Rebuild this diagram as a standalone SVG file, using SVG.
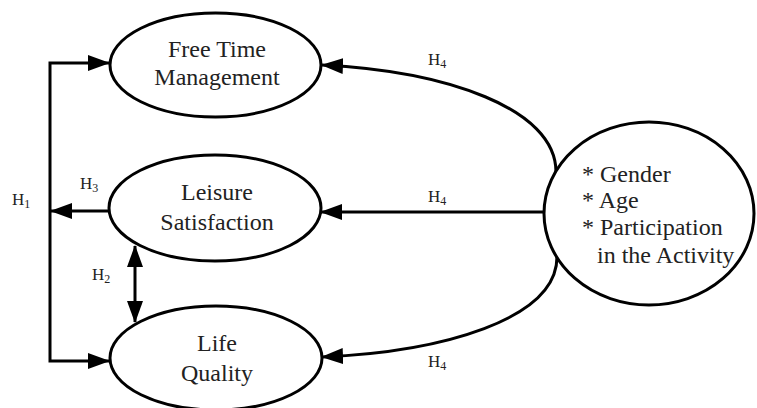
<svg xmlns="http://www.w3.org/2000/svg" width="757" height="408" viewBox="0 0 757 408">
  <style>
    .node { fill: #fff; stroke: #000; stroke-width: 3; }
    text { font-family: 'Liberation Serif', 'DejaVu Serif', 'Times New Roman', serif; fill: #222; }
    .lbl { font-size: 24px; }
    .c { text-anchor: middle; }
    .h { font-size: 17px; }
    .sub { font-size: 12px; }
    .conn { fill: none; stroke: #000; stroke-width: 3; }
  </style>
  <defs>
    <marker id="arr" markerUnits="userSpaceOnUse" markerWidth="22" markerHeight="16" refX="21" refY="8" orient="auto-start-reverse">
      <path d="M0,0 L22,8 L0,16 z" fill="#000"/>
    </marker>
  </defs>
  <rect width="757" height="408" fill="#fff"/>
  <g id="connectors">
    <path class="conn" d="M109 63 H50 V361 H109" marker-start="url(#arr)" marker-end="url(#arr)"/>
    <path class="conn" d="M108 211 H51" marker-end="url(#arr)"/>
    <path class="conn" d="M135 246 V322" marker-start="url(#arr)" marker-end="url(#arr)"/>
    <path class="conn" d="M545 212 H321" marker-end="url(#arr)"/>
    <path class="conn" d="M556 172 C556 108 445 71 322 65" marker-end="url(#arr)"/>
    <path class="conn" d="M557 256 C558 320 440 352 322 357" marker-end="url(#arr)"/>
    <text class="h" x="12" y="205" font-family="Liberation Serif, serif">H<tspan class="sub" dy="3">1</tspan></text>
    <text class="h" x="80" y="189" font-family="Liberation Serif, serif">H<tspan class="sub" dy="3">3</tspan></text>
    <text class="h" x="92" y="280" font-family="Liberation Serif, serif">H<tspan class="sub" dy="3">2</tspan></text>
    <text class="h" x="428" y="65" font-family="Liberation Serif, serif">H<tspan class="sub" dy="3">4</tspan></text>
    <text class="h" x="428" y="202" font-family="Liberation Serif, serif">H<tspan class="sub" dy="3">4</tspan></text>
    <text class="h" x="428" y="367" font-family="Liberation Serif, serif">H<tspan class="sub" dy="3">4</tspan></text>
  </g>
  <g id="free-time-management">
    <ellipse class="node" cx="215.5" cy="65" rx="105.5" ry="52"/>
    <text class="lbl c" x="217" y="57">Free Time</text>
    <text class="lbl c" x="217" y="85">Management</text>
  </g>
  <g id="leisure-satisfaction">
    <ellipse class="node" cx="215" cy="208" rx="106" ry="53"/>
    <text class="lbl c" x="217" y="200">Leisure</text>
    <text class="lbl c" x="217" y="230">Satisfaction</text>
  </g>
  <g id="life-quality">
    <ellipse class="node" cx="216" cy="358" rx="106" ry="52"/>
    <text class="lbl c" x="217" y="351">Life</text>
    <text class="lbl c" x="217" y="381">Quality</text>
  </g>
  <g id="factors">
    <ellipse class="node" cx="649" cy="213.5" rx="105" ry="91.5"/>
    <text class="lbl" x="582" y="182">* Gender</text>
    <text class="lbl" x="582" y="208">* Age</text>
    <text class="lbl" x="582" y="235">* Participation</text>
    <text class="lbl" x="597" y="263">in the Activity</text>
  </g>
</svg>
